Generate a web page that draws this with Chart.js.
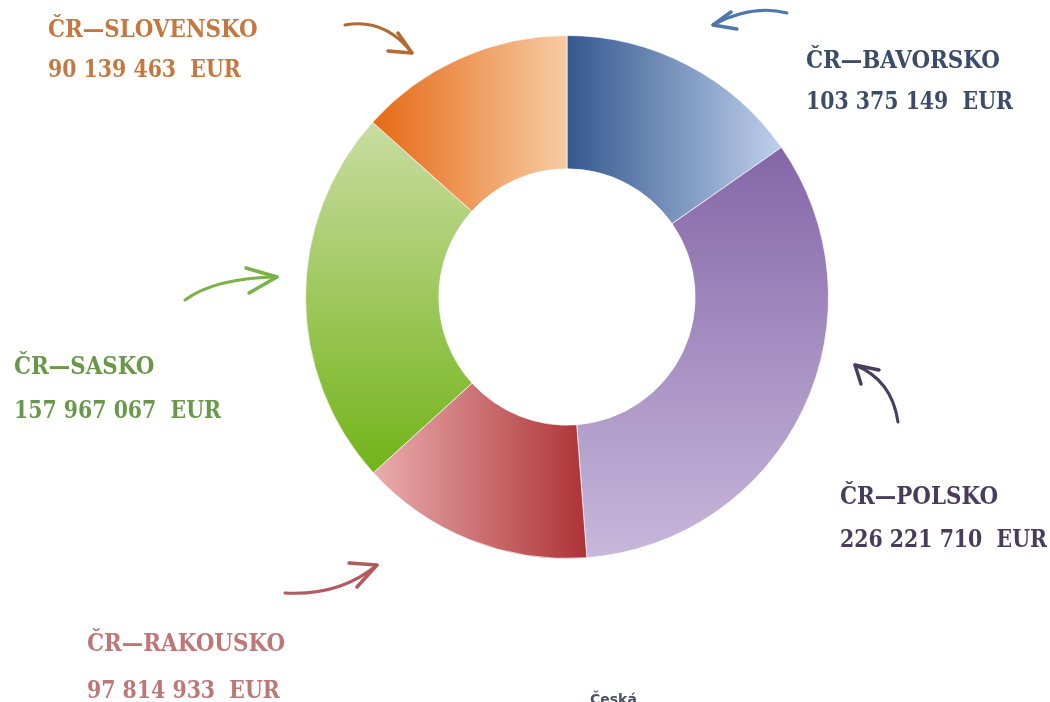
<!DOCTYPE html>
<html>
<head>
<meta charset="utf-8">
<script src="https://cdn.jsdelivr.net/npm/chart.js@4.4.0/dist/chart.umd.min.js"></script>
<style>
  html, body { margin: 0; padding: 0; background: #ffffff; }
  #wrap { width: 1050px; height: 702px; position: relative; }
</style>
</head>
<body>
<div id="wrap"><canvas id="donut"></canvas></div>
<script>
// data
const regions = ['ČR—BAVORSKO', 'ČR—POLSKO', 'ČR—RAKOUSKO', 'ČR—SASKO', 'ČR—SLOVENSKO'];
const amounts = [103375149, 226221710, 97814933, 157967067, 90139463];
const amountLabels = ['103 375 149  EUR', '226 221 710  EUR', '97 814 933  EUR', '157 967 067  EUR', '90 139 463  EUR'];
const textColors = ['#3b4c6a', '#483c5c', '#bf7676', '#6a984a', '#c4773e'];

// label placement (left x, baseline of first line, baseline of second line)
const labelPos = [
    [806, 68, 109],
    [840, 504, 547],
    [87, 651, 698],
    [14, 374, 418],
    [48, 37, 77]
];

// gradient per segment: [dir, from, to, colorFrom, colorTo] offsets in radius units
const grads = [
    ['x', 0.0, 0.80, '#34588f', '#bccde9'],
    ['y', -0.58, 1.0, '#8466a8', '#c8b8db'],
    ['x', -0.72, 0.08, '#e8aaaa', '#ad3236'],
    ['y', -0.68, 0.68, '#cadda2', '#72b318'],
    ['x', -0.72, 0.0, '#e66c18', '#f8cba4']
];

function segFill(context) {
    const chart = context.chart;
    const area = chart.chartArea;
    const g = grads[context.dataIndex];
    if (!area) return g[3];
    const cx = (area.left + area.right) / 2;
    const cy = (area.top + area.bottom) / 2;
    const r = Math.min(area.right - area.left, area.bottom - area.top) / 2;
    let grad;
    if (g[0] === 'x') {
        grad = chart.ctx.createLinearGradient(cx + g[1] * r, 0, cx + g[2] * r, 0);
    } else {
        grad = chart.ctx.createLinearGradient(0, cy + g[1] * r, 0, cy + g[2] * r);
    }
    grad.addColorStop(0, g[3]);
    grad.addColorStop(1, g[4]);
    return grad;
}

// hand drawn style arrows: tail, control, tip, barb1, barb2
const arrows = [
    [[787, 13], [752, 4], [713, 25], [731, 12], [737, 29], '#4f76aa'],
    [[898, 422], [892, 380], [855, 365], [879, 370], [861, 384], '#4a3e5e'],
    [[285, 593], [340, 596], [377, 565], [349, 563], [357, 587], '#b35a5e'],
    [[185, 300], [215, 278], [277, 277], [246, 268], [249, 293], '#7ab24a'],
    [[345, 25], [385, 18], [412, 53], [398, 33], [388, 51], '#b36a32']
];

// pick a font size so a sample string gets the width measured on the picture
function fitFont(ctx, text, target) {
    const fam = '"DejaVu Serif Condensed", "DejaVu Serif"';
    ctx.font = 'bold 24px ' + fam;
    const w = ctx.measureText(text).width;
    const size = Math.min(24, 24 * target / w);
    return 'bold ' + size.toFixed(1) + 'px ' + fam;
}

const labelsPlugin = {
    id: 'sideLabels',
    afterDraw(chart) {
        const ctx = chart.ctx;
        ctx.save();
        arrows.forEach(a => {
            ctx.strokeStyle = a[5];
            ctx.lineCap = 'round';
            ctx.lineJoin = 'round';
            ctx.lineWidth = 3;
            ctx.beginPath();
            ctx.moveTo(a[0][0], a[0][1]);
            ctx.quadraticCurveTo(a[1][0], a[1][1], a[2][0], a[2][1]);
            ctx.stroke();
            ctx.lineWidth = 3.5;
            ctx.beginPath();
            ctx.moveTo(a[3][0], a[3][1]);
            ctx.lineTo(a[2][0], a[2][1]);
            ctx.lineTo(a[4][0], a[4][1]);
            ctx.stroke();
        });

        ctx.textBaseline = 'alphabetic';
        ctx.textAlign = 'left';
        const titleFont = fitFont(ctx, 'ČR—SLOVENSKO', 210);
        // the numbers use narrow digits: same height, squeezed sideways
        ctx.font = titleFont;
        const squeeze = Math.min(1, 207 / ctx.measureText('226 221 710  EUR').width);
        regions.forEach((name, i) => {
            const p = labelPos[i];
            ctx.fillStyle = textColors[i];
            ctx.font = titleFont;
            ctx.fillText(name, p[0], p[1]);
            ctx.save();
            ctx.translate(p[0], p[2]);
            ctx.scale(squeeze, 1);
            ctx.fillText(amountLabels[i], 0, 0);
            ctx.restore();
        });

        ctx.fillStyle = '#4a5266';
        ctx.font = 'bold 14px "DejaVu Sans"';
        ctx.fillText('Česká', 590, 704);
        ctx.restore();
    }
};

const chart = new Chart(document.getElementById('donut'), {
    type: 'doughnut',
    data: {
        labels: regions,
        datasets: [{
            data: amounts,
            backgroundColor: segFill,
            borderColor: 'rgba(255,255,255,0.7)',
            borderWidth: 1
        }]
    },
    options: {
        responsive: true,
        maintainAspectRatio: false,
        animation: false,
        cutout: '49%',
        layout: {
            padding: { left: 305, right: 221, top: 33, bottom: 141 }
        },
        plugins: {
            legend: { display: false },
            tooltip: { enabled: false }
        }
    },
    plugins: [labelsPlugin]
});
</script>
</body>
</html>
